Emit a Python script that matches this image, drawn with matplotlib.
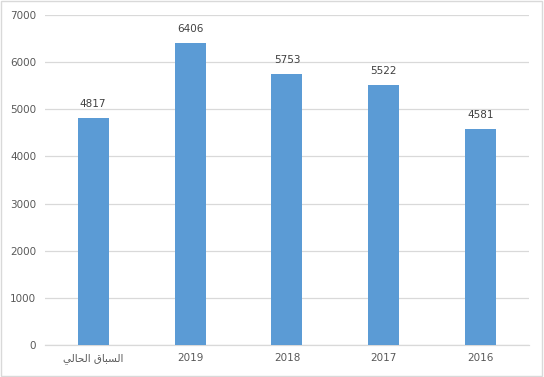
import matplotlib
matplotlib.use("Agg")
import matplotlib.pyplot as plt
from matplotlib.patches import Rectangle

# data
categories = ["السباق الحالي", "2019", "2018", "2017", "2016"]
values = [4817, 6406, 5753, 5522, 4581]
yticks = [0, 1000, 2000, 3000, 4000, 5000, 6000, 7000]

# matplotlib has no Arabic shaping: visual (presentation-form, LTR) version of the label
display = {"السباق الحالي": "\uFEF2\uFEDF\uFE8E\uFEA4\uFEDF\uFE8D \uFED5\uFE8E\uFE92\uFEB4\uFEDF\uFE8D"}
labels = [display.get(c, c) for c in categories]

BAR = "#5B9BD5"
GRID = "#D9D9D9"
TXT = "#595959"

fig = plt.figure(figsize=(5.44, 3.77), dpi=100)
fig.patches.append(Rectangle((0.002, 0.003), 0.994, 0.994, transform=fig.transFigure,
                             fill=False, edgecolor="#D9D9D9", linewidth=1.0))
ax = fig.add_axes([0.082, 0.085, 0.891, 0.875])

x = range(len(categories))
bars = ax.bar(x, values, width=0.32, color=BAR, zorder=3)
for b, v in zip(bars, values):
    ax.text(b.get_x() + b.get_width() / 2, v + 190, f"{v}", ha="center", va="bottom",
            fontsize=7.5, color="#404040", family=["DejaVu Sans"])

ax.set_xlim(-0.5, len(categories) - 0.5)
ax.set_ylim(0, 7000)
ax.set_yticks(yticks)
ax.set_yticklabels([str(t) for t in yticks], fontsize=7.5, color=TXT)
ax.set_xticks(list(x))
ax.set_xticklabels(labels, fontsize=7.5, color=TXT, family=["DejaVu Sans"])
ax.tick_params(length=0)
ax.tick_params(axis="x", pad=6)
ax.tick_params(axis="y", pad=6)
ax.grid(axis="y", color=GRID, linewidth=0.9, zorder=0)
for s in ["top", "right", "left"]:
    ax.spines[s].set_visible(False)
ax.spines["bottom"].set_color(GRID)
ax.spines["bottom"].set_linewidth(0.9)

fig.savefig("out.png", dpi=100)
